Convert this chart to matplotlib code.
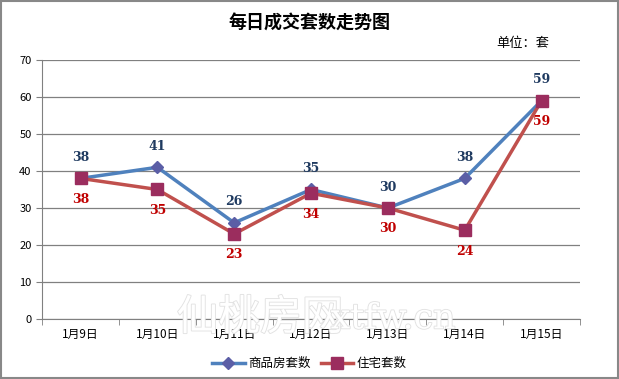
import matplotlib.pyplot as plt
import matplotlib.patheffects as pe
import numpy as np
from matplotlib.patches import Rectangle

plt.rcParams['font.family'] = ['Noto Sans CJK SC', 'DejaVu Sans']

dates = ['1月9日', '1月10日', '1月11日', '1月12日', '1月13日', '1月14日', '1月15日']
commercial = [38, 41, 26, 35, 30, 38, 59]   # 商品房套数
residential = [38, 35, 23, 34, 30, 24, 59]  # 住宅套数

fig = plt.figure(figsize=(6.19, 3.79), dpi=100)

# faint watermark behind everything
fig.text(0.42, 0.16, '仙桃房网', fontsize=30, color='white', ha='center', va='center',
         path_effects=[pe.withStroke(linewidth=1.3, foreground='#e2e2e2')], zorder=0)
fig.text(0.635, 0.16, 'xtfw.cn', fontsize=25, color='white', ha='center', va='center',
         family='DejaVu Serif',
         path_effects=[pe.withStroke(linewidth=1.3, foreground='#e2e2e2')], zorder=0)

ax = fig.add_axes([0.068, 0.158, 0.869, 0.684])
ax.patch.set_alpha(0)

x = np.arange(len(dates))
ax.plot(x, commercial, color='#4F81BD', lw=2.5, marker='D', ms=6,
        mfc='#5B5EA6', mec='#5B5EA6', label='商品房套数', zorder=3)
ax.plot(x, residential, color='#C0504D', lw=2.5, marker='s', ms=8,
        mfc='#9B2D5E', mec='#9B2D5E', label='住宅套数', zorder=4)

for i in range(len(x)):
    ax.annotate(str(commercial[i]), (x[i], commercial[i]), xytext=(0, 15),
                textcoords='offset points', ha='center', va='center',
                fontsize=9, fontweight='bold', color='#1F3A60', family='DejaVu Serif')
    ax.annotate(str(residential[i]), (x[i], residential[i]), xytext=(0, -15),
                textcoords='offset points', ha='center', va='center',
                fontsize=9, fontweight='bold', color='#C00000', family='DejaVu Serif')

ax.set_xlim(-0.5, len(x) - 0.5)
ax.set_ylim(0, 70)
ax.set_yticks(range(0, 71, 10))
ax.set_xticks(x)
ax.set_xticklabels(dates, fontsize=8.5)
ax.set_xticks(np.arange(-0.5, len(x), 1), minor=True)
ax.tick_params(axis='x', which='major', length=0, pad=6)
ax.tick_params(axis='x', which='minor', length=4, color='#808080')
ax.tick_params(axis='y', labelsize=8, length=4, color='#808080')
ax.yaxis.grid(True, color='#808080', lw=0.9)
ax.set_axisbelow(True)
for s in ['top', 'right']:
    ax.spines[s].set_visible(False)
for s in ['left', 'bottom']:
    ax.spines[s].set_color('#808080')

fig.text(0.5, 0.94, '每日成交套数走势图', fontsize=13, fontweight='bold', ha='center', va='center')
fig.text(0.845, 0.885, '单位：套', fontsize=9.5, ha='center', va='center')

fig.legend(loc='center', bbox_to_anchor=(0.5, 0.04), ncol=2, frameon=False,
           fontsize=9, handlelength=2.6, columnspacing=0.8, handletextpad=0.3)

fig.patches.append(Rectangle((0.001, 0.002), 0.997, 0.995, transform=fig.transFigure,
                             fill=False, edgecolor='#888888', lw=1.5))

fig.savefig('out.png', dpi=100)
